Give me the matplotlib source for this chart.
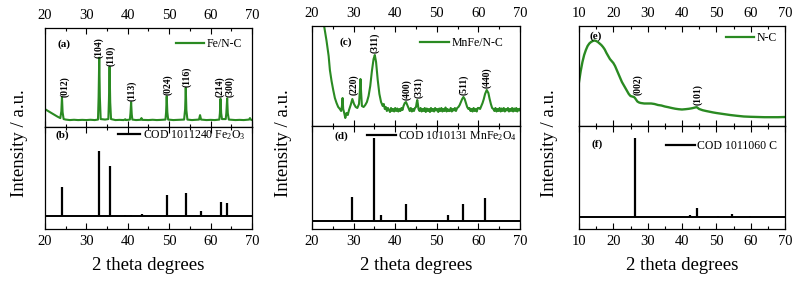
import numpy as np
import matplotlib.pyplot as plt
from matplotlib.ticker import MultipleLocator

plt.rcParams['font.family'] = ['Liberation Serif', 'DejaVu Serif']
plt.rcParams['mathtext.default'] = 'regular'

green = '#2a8a22'

# (a) Fe/N-C measured pattern
fe_x = [20, 21, 22, 23, 23.7, 23.95, 24.1, 24.25, 24.5, 25, 26, 27, 28, 29, 30, 31, 32,
        32.8, 32.95, 33.1, 33.25, 33.45, 34.5, 35.3, 35.45, 35.6, 35.75, 35.95, 37, 38,
        39, 39.4, 39.6, 40.5, 40.65, 40.8, 40.95, 41.1, 42, 43.1, 43.3, 43.5, 45, 46, 47,
        48, 49.1, 49.25, 49.4, 49.55, 49.75, 51, 52, 53.6, 53.85, 54.0, 54.15, 54.4, 55.5,
        57.2, 57.45, 57.7, 59, 60, 61, 62.1, 62.25, 62.4, 62.55, 62.75, 63.65, 63.8, 64.0,
        64.15, 64.4, 66, 67, 68, 69.3, 69.5, 69.7, 70]
fe_y = [18, 15.5, 13, 10.5, 9, 16, 30, 15, 8, 7.5, 7, 7.3, 7, 7.2, 7, 7.3, 7,
        7.5, 30, 70, 30, 8, 7.5, 8, 28, 61, 25, 8, 7, 7.2,
        7, 7.8, 7, 7.5, 14, 25, 13, 7.5, 7, 7.3, 9, 7.2, 7, 7.3, 7,
        7.2, 7.5, 15, 31, 15, 7.5, 7, 7.2, 7.5, 18, 39.5, 17, 7.5, 7,
        7.5, 12, 7.5, 7, 7.2, 7, 7.5, 14, 28.5, 14, 8, 8, 14, 29,
        14, 7.5, 7, 7.2, 7, 7.5, 9, 7.5, 7]
fe_hkl = ['(012)', '(104)', '(110)', '(113)', '(024)', '(116)', '(214)', '(300)']
fe_hkl_x = [24.7, 33.1, 35.9, 40.9, 49.6, 54.3, 62.2, 64.7]
fe_hkl_y = [30, 70, 62, 26, 32, 40, 30, 30]

# (b) COD 1011240 Fe2O3 reference
fe2o3_pos = [24.14, 33.15, 35.61, 39.28, 40.85, 43.52, 49.48, 54.09, 57.59, 62.45, 64.0]
fe2o3_h = [28.7, 65.3, 50.3, 1.5, 1.5, 2, 21, 23.3, 5, 14.3, 12.7]

# (c) MnFe/N-C measured pattern
mn_x = [22.6, 23.0, 23.5, 24.0, 24.3, 24.7, 25.1, 25.5, 25.9, 26.3, 26.7, 27.0, 27.2, 27.35,
        27.5, 27.8, 28.0, 28.3, 28.6, 28.9, 29.3, 29.7, 30.1, 30.5, 30.9, 31.3, 31.5, 31.65,
        31.8, 32.0, 32.4, 32.8, 33.2, 33.6, 34.0, 34.4, 34.8, 35.1, 35.4, 35.8, 36.2, 36.6,
        37.0, 37.25, 37.5, 37.75, 38.0, 38.25, 38.5, 38.75, 39.0, 39.25, 39.5, 39.75, 40.0,
        40.25, 40.5, 40.75, 41.0, 41.25, 41.5, 41.75, 42.0, 42.3, 42.6, 42.9, 43.2, 43.5,
        43.75, 44.0, 44.25, 44.5, 44.75, 45.0, 45.15, 45.3, 45.45, 45.6, 45.85, 46.1, 46.35,
        46.6, 46.85, 47.1, 47.35, 47.6, 47.85, 48.1, 48.35, 48.6, 48.85, 49.1, 49.35, 49.6,
        49.85, 50.1, 50.35, 50.6, 50.85, 51.1, 51.35, 51.6, 51.85, 52.1, 52.35, 52.6, 52.85,
        53.1, 53.35, 53.6, 53.85, 54.1, 54.35, 54.6, 54.9, 55.2, 55.5, 55.8, 56.1, 56.4,
        56.7, 57.0, 57.3, 57.6, 57.85, 58.1, 58.35, 58.6, 58.85, 59.1, 59.35, 59.6, 59.85,
        60.1, 60.4, 60.7, 61.0, 61.3, 61.6, 62.0, 62.4, 62.7, 63.0, 63.3, 63.6, 63.85, 64.1,
        64.35, 64.6, 64.85, 65.1, 65.35, 65.6, 65.85, 66.1, 66.35, 66.6, 66.85, 67.1, 67.35,
        67.6, 67.85, 68.1, 68.35, 68.6, 68.85, 69.1, 69.35, 69.6, 69.85, 70]
mn_y = [108, 98, 85, 70, 56, 45, 36, 28, 23, 19, 17, 15, 20, 28,
        17, 12, 8, 13, 11, 16, 21, 27, 22, 19, 18, 22, 35, 47,
        34, 20, 19, 21, 24, 30, 40, 55, 67, 71, 64, 46, 32, 24,
        20, 22, 17, 19, 15, 18, 16, 14, 18, 15, 17, 14.5, 18,
        15, 17.5, 14.5, 17, 15, 18, 16, 20, 23, 24, 21, 18, 15,
        18, 14.5, 17, 15, 18, 19, 23, 26, 22, 17, 15, 18, 14.5,
        17, 15, 18, 14, 17.5, 15, 17, 14, 18, 15, 17, 14.5, 18,
        15.5, 17, 14, 17.5, 15, 18, 14.5, 17, 15, 18.5, 14.5, 17, 15,
        15, 18, 14.5, 17, 15.5, 18, 15, 18, 19, 21, 24, 27, 29,
        27, 23, 19, 17, 18, 15, 17, 14.5, 18, 15, 17, 14.5, 18,
        18, 17, 20, 23, 27, 32, 36, 33, 27, 22, 18, 17, 15, 18,
        14.5, 17, 15, 18, 14.5, 17.5, 15, 18, 14.5, 17, 15.5, 18, 14.5,
        17, 15, 18, 14.5, 17.5, 15, 18, 14.5, 17, 15.5, 17]
mn_hkl = ['(220)', '(311)', '(400)', '(331)', '(511)', '(440)']
mn_hkl_x = [30.0, 35.2, 42.8, 45.6, 56.5, 62.1]
mn_hkl_y = [31, 73, 26, 28, 31, 38]

# (d) COD 1010131 MnFe2O4 reference
mnfe2o4_pos = [29.7, 34.99, 36.6, 42.5, 52.8, 56.2, 61.7]
mnfe2o4_h = [23.7, 82.7, 6, 17, 6, 17, 23.3]

# (e) N-C measured pattern
nc_x = [10, 10.5, 11, 11.5, 12, 12.5, 13, 13.5, 14, 14.5, 15, 15.5, 16, 16.5, 17, 17.5, 18,
        18.5, 19, 19.5, 20, 20.5, 21, 21.5, 22, 22.5, 23, 23.5, 24, 24.5, 25, 25.5, 26, 26.3,
        26.7, 27, 27.5, 28, 29, 30, 31, 32, 33, 34, 35, 36, 37, 38, 39, 40, 41, 42, 43, 43.8,
        44.3, 45, 46, 47, 48, 49, 50, 52, 54, 56, 58, 60, 62, 64, 66, 68, 70]
nc_y = [44, 55, 64, 71, 76, 80, 82.5, 84, 85, 85.5, 85, 84, 82.5, 81, 79, 76.5, 73,
        70, 67, 65, 63, 60, 56, 52, 48, 44, 41, 38, 35, 32, 30, 29.5, 29, 28,
        26, 24.5, 23.5, 23, 22.5, 22.5, 22.5, 22, 21, 20.5, 19.5, 18.8, 18, 17.3, 16.8, 16.5,
        16.8, 17.2, 17.8, 18.5, 18.8, 17, 15.8, 15, 14.3, 13.6, 13, 12, 11, 10.2, 9.5, 9.2, 9,
        8.8, 8.8, 8.8, 9]
nc_hkl = ['(002)', '(101)']
nc_hkl_x = [27.0, 44.6]
nc_hkl_y = [31, 21]

# (f) COD 1011060 C reference
c_pos = [26.38, 42.2, 44.4, 50.5, 54.5, 59.7]
c_h = [79, 2, 9.7, 1, 3, 1.5]

W, H = 798, 284
fig = plt.figure(figsize=(W / 100, H / 100), dpi=100)


def px_axes(x0, x1, y0, y1):
    return fig.add_axes([x0 / W, 1 - y1 / H, (x1 - x0) / W, (y1 - y0) / H])


def style(ax, xlim, top):
    ax.set_xlim(*xlim)
    ax.set_yticks([])
    ax.xaxis.set_major_locator(MultipleLocator(10))
    ax.xaxis.set_minor_locator(MultipleLocator(5))
    ax.tick_params(axis='x', which='both', direction='in', top=True, bottom=True,
                   labeltop=top, labelbottom=not top, labelsize=10.5, pad=4)
    ax.tick_params(axis='x', which='major', length=4, width=0.8)
    ax.tick_params(axis='x', which='minor', length=2.5, width=0.8)
    for s in ax.spines.values():
        s.set_linewidth(0.9)


def legend(ax, label, color, x, y, hl=2.4):
    ax.plot([], [], color=color, lw=1.6, label=label)
    ax.legend(loc='center right', bbox_to_anchor=(x, y), frameon=False, fontsize=8.5,
              handlelength=hl, handletextpad=0.2, borderpad=0, borderaxespad=0)


def hkl(ax, labels, xs, ys):
    for t, x, y in zip(labels, xs, ys):
        ax.text(x, y, t, rotation=90, ha='center', va='bottom', fontsize=7,
                fontweight='bold')


# panel 1
ax_a = px_axes(45, 252, 28, 127)
ax_a.plot(fe_x, fe_y, color=green, lw=1.5)
ax_a.set_ylim(0, 100)
style(ax_a, (20, 70), True)
hkl(ax_a, fe_hkl, fe_hkl_x, fe_hkl_y)
legend(ax_a, 'Fe/N-C', green, 0.952, 0.838)
ax_a.text(0.058, 0.84, '(a)', transform=ax_a.transAxes, fontsize=8, fontweight='bold',
          va='center')

ax_b = px_axes(45, 252, 127, 229)
ax_b.vlines(fe2o3_pos, 0, fe2o3_h, color='black', lw=1.6)
ax_b.axhline(0, color='black', lw=1.4)
ax_b.set_ylim(-13, 89)
style(ax_b, (20, 70), False)
legend(ax_b, 'COD 1011240 Fe$_2$O$_3$', 'black', 0.966, 0.92, hl=1.9)
ax_b.text(0.05, 0.92, '(b)', transform=ax_b.transAxes, fontsize=8, fontweight='bold',
          va='center')

# panel 2
ax_c = px_axes(312, 520, 26, 126)
ax_c.plot(mn_x, mn_y, color=green, lw=1.5)
ax_c.set_ylim(0, 100)
style(ax_c, (20, 70), True)
hkl(ax_c, mn_hkl, mn_hkl_x, mn_hkl_y)
legend(ax_c, 'MnFe/N-C', green, 0.918, 0.833)
ax_c.text(0.13, 0.84, '(c)', transform=ax_c.transAxes, fontsize=8, fontweight='bold',
          va='center')

ax_d = px_axes(312, 520, 126, 229)
ax_d.vlines(mnfe2o4_pos, 0, mnfe2o4_h, color='black', lw=1.6)
ax_d.axhline(0, color='black', lw=1.4)
ax_d.set_ylim(-8, 95)
style(ax_d, (20, 70), False)
legend(ax_d, 'COD 1010131 MnFe$_2$O$_4$', 'black', 0.986, 0.903)
ax_d.text(0.106, 0.90, '(d)', transform=ax_d.transAxes, fontsize=8, fontweight='bold',
          va='center')

# panel 3
ax_e = px_axes(579, 785, 26, 126)
ax_e.plot(nc_x, nc_y, color=green, lw=1.7)
ax_e.set_ylim(0, 100)
style(ax_e, (10, 70), True)
hkl(ax_e, nc_hkl, nc_hkl_x, nc_hkl_y)
legend(ax_e, 'N-C', green, 0.961, 0.88)
ax_e.text(0.053, 0.90, '(e)', transform=ax_e.transAxes, fontsize=8, fontweight='bold',
          va='center')

ax_f = px_axes(579, 785, 126, 229)
ax_f.vlines(c_pos, 0, c_h, color='black', lw=1.6)
ax_f.axhline(0, color='black', lw=1.4)
ax_f.set_ylim(-11.7, 91.3)
style(ax_f, (10, 70), False)
legend(ax_f, 'COD 1011060 C', 'black', 0.961, 0.806)
ax_f.text(0.061, 0.825, '(f)', transform=ax_f.transAxes, fontsize=8, fontweight='bold',
          va='center')

# shared labels
for xc, yl_x in [(148, 20), (416, 283), (682, 549)]:
    fig.text(xc / W, 1 - 265 / H, '2 theta degrees', ha='center', va='center', fontsize=13.5)
    fig.text(yl_x / W, 1 - 143 / H, 'Intensity / a.u.', ha='center', va='center',
             rotation=90, fontsize=13.5)

fig.savefig('out.png', dpi=100)
